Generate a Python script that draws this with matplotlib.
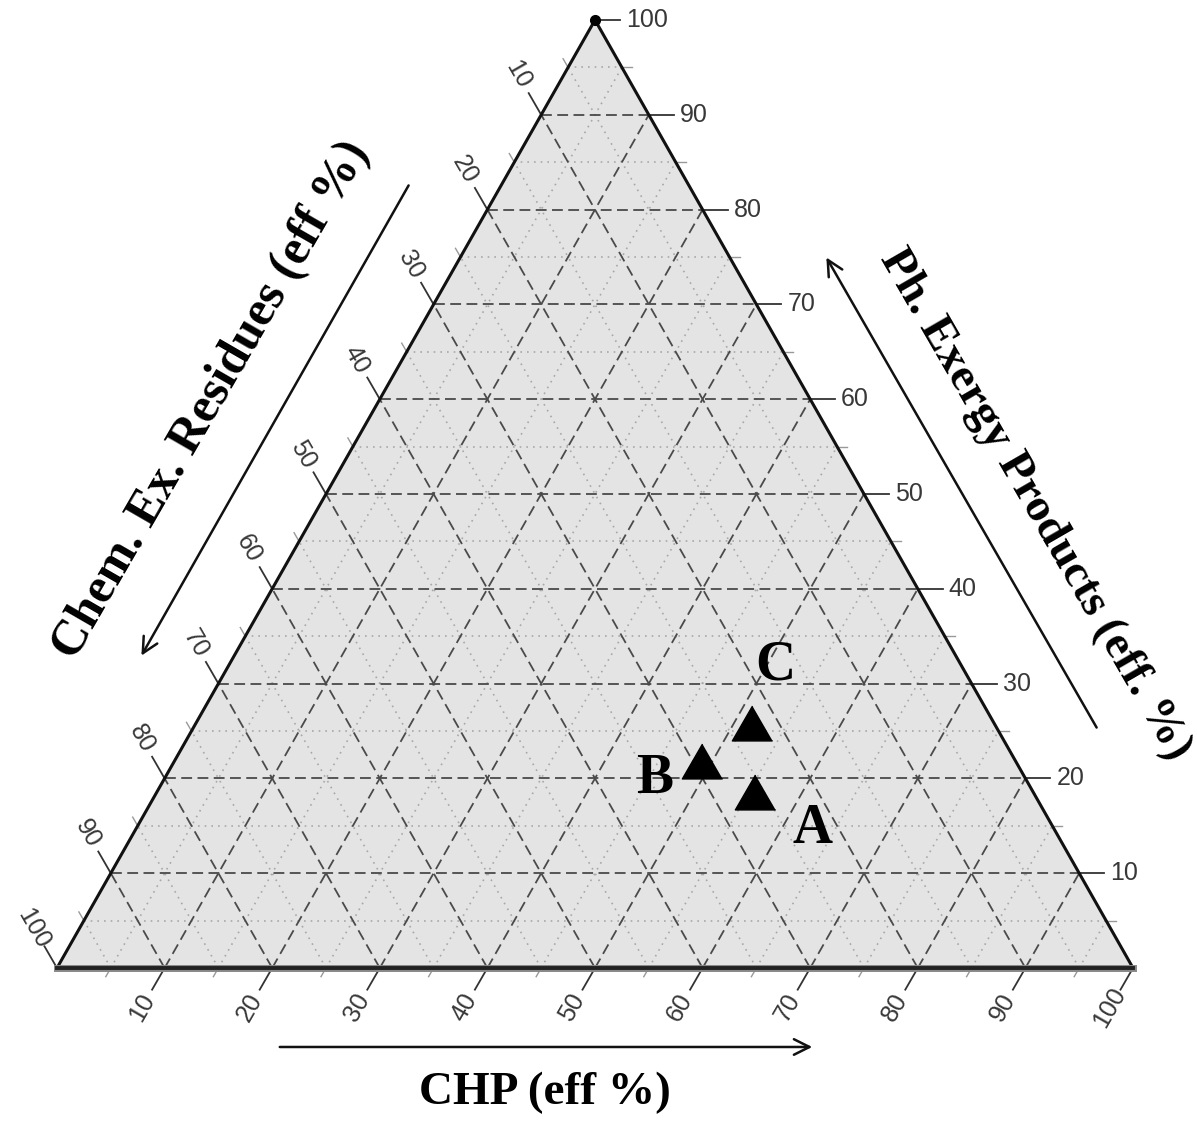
import matplotlib
matplotlib.use('Agg')
import matplotlib.pyplot as plt
import numpy as np

# data (percent): CHP = bottom axis, Ph. exergy = right axis, Chem. residues = rest
labels = ['A', 'B', 'C']
chp = [55.6, 49.0, 51.7]
ph_exergy = [18.6, 21.8, 25.8]
major = [10, 20, 30, 40, 50, 60, 70, 80, 90]
minor = [5, 15, 25, 35, 45, 55, 65, 75, 85, 95]
tick_vals = [10, 20, 30, 40, 50, 60, 70, 80, 90, 100]

H = np.sqrt(3) / 2
PX_X = 1076.0          # pixels per unit in x
PX_Y = 948.0 / H       # pixels per unit in y


def tern(c, p):
    # c = CHP, p = Ph exergy (both %)
    c = np.asarray(c) / 100.0
    p = np.asarray(p) / 100.0
    return c + 0.5 * p, H * p


fig = plt.figure(figsize=(11.97, 11.27), dpi=100)
ax = fig.add_axes([0, 0, 1, 1])
ax.set_xlim(-57 / PX_X, (1197 - 57) / PX_X)
ax.set_ylim(-(1127 - 968) / PX_Y, H + 20 / PX_Y)
ax.axis('off')

# background triangle
tx, ty = tern([0, 100, 0, 0], [0, 0, 100, 0])
ax.fill(tx, ty, color='#e4e4e4', zorder=0)


def seg(c1, p1, c2, p2, **kw):
    x, y = tern([c1, c2], [p1, p2])
    ax.plot(x, y, **kw)


# minor dotted grid
mkw = dict(color='#a8a8a8', lw=1.2, linestyle=(0, (1, 3)), zorder=1)
for k in minor:
    seg(0, k, 100 - k, k, **mkw)
    seg(k, 0, k, 100 - k, **mkw)
    seg(100 - k, 0, 0, 100 - k, **mkw)

# major dashed grid
gkw = dict(color='#4a4a4a', lw=1.3, linestyle=(0, (6, 3)), zorder=2)
for k in major:
    seg(0, k, 100 - k, k, **gkw)
    seg(k, 0, k, 100 - k, **gkw)
    seg(100 - k, 0, 0, 100 - k, **gkw)

# triangle outline
seg(0, 0, 0, 100, color='#111111', lw=2.2, zorder=4)
seg(100, 0, 0, 100, color='#111111', lw=2.2, zorder=4)
seg(0, 0, 100, 0, color='#888888', lw=5, zorder=4)
seg(0, 0, 100, 0, color='#222222', lw=2.8, zorder=4)
ax.plot(*tern([0], [100]), 'o', color='black', ms=7, zorder=5)

tick_len = 25
lab_dist = 46
tkw = dict(color='#333333', lw=1.3, zorder=3)
fkw = dict(fontsize=18, color='#383838', family='Liberation Sans')

# right axis ticks (Ph exergy), horizontal to the right
for k in tick_vals:
    x0, y0 = tern(100 - k, k)
    ax.plot([x0, x0 + tick_len / PX_X], [y0, y0], **tkw)
    ax.text(x0 + (tick_len + 6) / PX_X, y0, str(k), ha='left', va='center', **fkw)

# bottom axis ticks (CHP), down-left
dvx, dvy = -0.5, -H
for k in tick_vals:
    x0, y0 = tern(k, 0)
    ax.plot([x0, x0 + dvx * tick_len / PX_X], [y0, y0 + dvy * tick_len / PX_Y], **tkw)
    ax.text(x0 + dvx * lab_dist / PX_X, y0 + dvy * lab_dist / PX_Y, str(k),
            ha='center', va='center', rotation=60, **fkw)
for k in minor:
    x0, y0 = tern(k, 0)
    ax.plot([x0, x0 + dvx * 10 / PX_X], [y0, y0 + dvy * 10 / PX_Y], color='#999999', lw=1)

# left axis ticks (Chem residues), up-left
lvx, lvy = -0.5, H
for k in tick_vals:
    x0, y0 = tern(0, 100 - k)
    ax.plot([x0, x0 + lvx * tick_len / PX_X], [y0, y0 + lvy * tick_len / PX_Y], **tkw)
    ax.text(x0 + lvx * lab_dist / PX_X, y0 + lvy * lab_dist / PX_Y, str(k),
            ha='center', va='center', rotation=-60, **fkw)
for k in minor:
    x0, y0 = tern(0, 100 - k)
    ax.plot([x0, x0 + lvx * 10 / PX_X], [y0, y0 + lvy * 10 / PX_Y], color='#999999', lw=1)
for k in minor:
    x0, y0 = tern(100 - k, k)
    ax.plot([x0, x0 + 10 / PX_X], [y0, y0], color='#999999', lw=1)

# data points
tri = [(0, 0.866), (-1, -0.866), (1, -0.866)]
px, py = tern(chp, ph_exergy)
ax.scatter(px, py, marker=tri, s=29 ** 2, color='black', zorder=6)

offsets = {'A': (41, -27), 'B': (-34, -13), 'C': (17, 42)}
for lab, x, y in zip(labels, px, py):
    ax.annotate(lab, (x, y), xytext=offsets[lab], textcoords='offset points',
                ha='center', va='center', fontsize=40, fontweight='bold',
                family='Liberation Serif', zorder=7)

# axis titles and arrows
skw = dict(fontweight='bold', family='Liberation Serif', ha='center', va='center',
           transform=ax.transAxes)
ax.text(0.1770, 0.6451, 'Chem. Ex. Residues (eff %)', fontsize=36, rotation=60, **skw)
ax.text(0.8647, 0.5519, 'Ph. Exergy Products (eff. %)', fontsize=34, rotation=-60, **skw)
ax.text(0.4553, 0.0302, 'CHP (eff %)', fontsize=34, **skw)

akw = dict(arrowstyle='->', color='#111111', lw=1.8, mutation_scale=28)
ax.annotate('', xy=(0.1170, 0.4161), xytext=(0.3425, 0.8376), xycoords='axes fraction',
            arrowprops=akw)
ax.annotate('', xy=(0.6892, 0.7737), xytext=(0.9173, 0.3523), xycoords='axes fraction',
            arrowprops=akw)
ax.annotate('', xy=(0.6809, 0.0710), xytext=(0.2314, 0.0710), xycoords='axes fraction',
            arrowprops=akw)

plt.savefig('out.png', dpi=100)
